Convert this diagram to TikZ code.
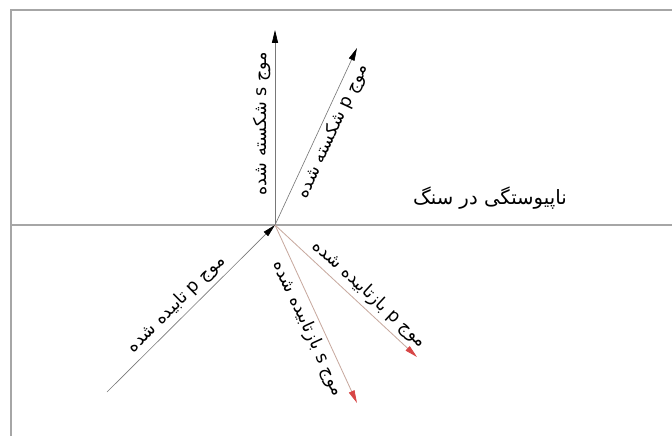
\documentclass[tikz,border=0pt]{standalone}
\usepackage{fontspec}
\newfontfamily\arabicfont[Script=Arabic]{DejaVu Sans}
\TeXXeTstate=1
\usepackage{xcolor}
\usepackage{tikz}
\usetikzlibrary{arrows.meta}

\definecolor{raygray}{RGB}{120,120,120}
\definecolor{echoline}{RGB}{200,170,160}
\definecolor{echotip}{RGB}{215,70,70}

\begin{document}
\begin{tikzpicture}[
  x=0.025cm,y=0.025cm,
  >={Triangle[length=3.2mm,width=1.5mm,fill=black,color=black]},
  frame/.style={draw=black!35,line width=1.2pt},
  ray/.style={->,draw=raygray,line width=0.45pt},
  echo/.style={-{Triangle[length=3.2mm,width=1.5mm,fill=echotip,color=echotip]},draw=echoline,line width=0.6pt},
  lbl/.style={font=\arabicfont\fontsize{12.5}{14}\selectfont,sloped,inner sep=3pt}
]
  \useasboundingbox (0,0) rectangle (672,436);

  % frame and the rock joint
  \draw[frame] (11,0) -- (11,426) -- (672,426);
  \draw[frame] (11,211) -- (672,211);
  \node[font=\arabicfont\fontsize{14}{16}\selectfont] (joint) at (490,238)
    {\beginR ناپیوستگی در سنگ\endR};

  \coordinate (o) at (275,211);
  \coordinate (sup) at (275,406);
  \coordinate (pup) at (357,388);
  \coordinate (pin) at (107,44);
  \coordinate (pdown) at (417,79);
  \coordinate (sdown) at (357,33);

  \draw[ray] (o) -- node[lbl,pos=0.52,above]
    {\beginR موج \beginL s\endL{} شکسته شده\endR} (sup);
  \draw[ray] (o) -- node[lbl,pos=0.56,below]
    {\beginR موج \beginL p\endL{} شکسته شده\endR} (pup);
  \draw[ray] (pin) -- node[lbl,pos=0.47,above]
    {\beginR موج \beginL p\endL{} تابیده شده\endR} (o);
  \draw[echo] (o) -- node[lbl,pos=0.6,above]
    {\beginR موج \beginL p\endL{} بازتابیده شده\endR} (pdown);
  \draw[echo] (o) -- node[lbl,pos=0.55,below]
    {\beginR موج \beginL s\endL{} بازتابیده شده\endR} (sdown);
\end{tikzpicture}
\end{document}
